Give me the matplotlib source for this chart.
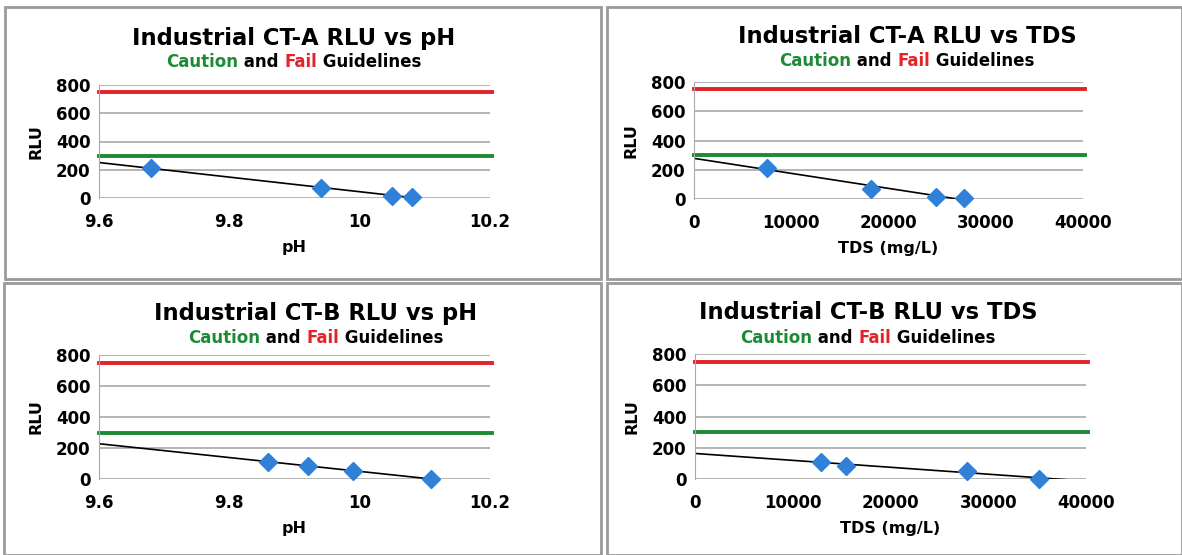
import numpy as np
import matplotlib
matplotlib.use("Agg")
import matplotlib.pyplot as plt
from matplotlib.patches import Rectangle

# data
ph_a = [9.68, 9.94, 10.05, 10.08]
tds_a = [7500, 18200, 24900, 27800]
rlu_a = [212, 70, 15, 10]

ph_b = [9.86, 9.92, 9.99, 10.11]
tds_b = [12900, 15400, 27800, 35200]
rlu_b = [112, 84, 54, 0]

caution_level = 300
fail_level = 750

y_ticks = [0, 200, 400, 600, 800]
ph_ticks = [9.6, 9.8, 10.0, 10.2]
ph_labels = ["9.6", "9.8", "10", "10.2"]
tds_ticks = [0, 10000, 20000, 30000, 40000]
tds_labels = ["0", "10000", "20000", "30000", "40000"]

W, H = 1182, 555
FONT = "DejaVu Sans"
GREEN = "#1e8a36"
RED = "#e32229"
BLUE = "#2f80d8"
GRID = "#a8a8a8"

fig = plt.figure(figsize=(W / 100, H / 100), dpi=100)
plt.rcParams["font.family"] = FONT


def px_box(l, t, r, b):
    # pixel box (from top-left) -> figure fraction rect
    return [l / W, 1 - b / H, (r - l) / W, (b - t) / H]


def frame(l, t, r, b):
    fig.patches.append(Rectangle((l / W, 1 - b / H), (r - l) / W, (b - t) / H,
                                 transform=fig.transFigure, fill=False,
                                 edgecolor="#9a9a9a", lw=2))


def titles(cx, base1, base2, title):
    fig.text(cx / W, 1 - base1 / H, title, ha="center", va="baseline",
             fontsize=16.3, fontweight="bold", color="black")
    parts = [("Caution", GREEN), (" and ", "black"), ("Fail", RED), (" Guidelines", "black")]
    r = fig.canvas.get_renderer()
    texts = []
    widths = []
    for s, c in parts:
        t = fig.text(0, 1 - base2 / H, s, ha="left", va="baseline",
                     fontsize=12, fontweight="bold", color=c)
        texts.append(t)
        widths.append(t.get_window_extent(r).width)
    x = cx - sum(widths) / 2
    for t, w in zip(texts, widths):
        t.set_x(x / W)
        x += w


def panel(box, x, y, xlim, xticks, xlabels, xlabel):
    ax = fig.add_axes(px_box(*box))
    ax.set_xlim(*xlim)
    ax.set_ylim(0, 800)
    for sp in ["top", "right", "bottom"]:
        ax.spines[sp].set_visible(False)
    ax.spines["left"].set_color(GRID)
    ax.set_yticks(y_ticks)
    ax.set_xticks(xticks)
    ax.set_xticklabels(xlabels)
    ax.tick_params(length=0)
    ax.tick_params(axis="y", pad=6)
    ax.tick_params(axis="x", pad=11)
    for lab in ax.get_xticklabels() + ax.get_yticklabels():
        lab.set_fontweight("bold")
        lab.set_fontsize(12)
    ax.grid(axis="y", color=GRID, lw=1.2)
    ax.set_axisbelow(True)

    ax.axhline(fail_level, xmax=1.005, color=RED, lw=2.8, clip_on=False)
    ax.axhline(caution_level, xmax=1.005, color=GREEN, lw=2.8, clip_on=False)

    # linear trend line, extended back to the axis start
    k, b = np.polyfit(x, y, 1)
    xs = np.array(xlim)
    ax.plot(xs, k * xs + b, color="black", lw=1.2)
    ax.plot(x, y, "D", color=BLUE, markersize=9, clip_on=False, zorder=5)

    ax.set_ylabel("RLU", fontsize=11.5, fontweight="bold", labelpad=9)
    ax.set_xlabel(xlabel, fontsize=11.5, fontweight="bold", labelpad=6)
    return ax


frame(5, 7, 601, 279)
frame(607, 7, 1182, 279)
frame(4, 283, 601, 555)
frame(607, 283, 1182, 555)

panel((99, 85, 490, 198), ph_a, rlu_a, (9.6, 10.2), ph_ticks, ph_labels, "pH")
panel((694, 82, 1083, 199), tds_a, rlu_a, (0, 40000), tds_ticks, tds_labels, "TDS (mg/L)")
panel((99, 355, 490, 479), ph_b, rlu_b, (9.6, 10.2), ph_ticks, ph_labels, "pH")
panel((695, 354, 1086, 479), tds_b, rlu_b, (0, 40000), tds_ticks, tds_labels, "TDS (mg/L)")

titles(294, 45, 67, "Industrial CT-A RLU vs pH")
titles(907, 43, 66, "Industrial CT-A RLU vs TDS")
titles(316, 320, 343, "Industrial CT-B RLU vs pH")
titles(868, 319, 343, "Industrial CT-B RLU vs TDS")

fig.savefig("out.png", dpi=100)
